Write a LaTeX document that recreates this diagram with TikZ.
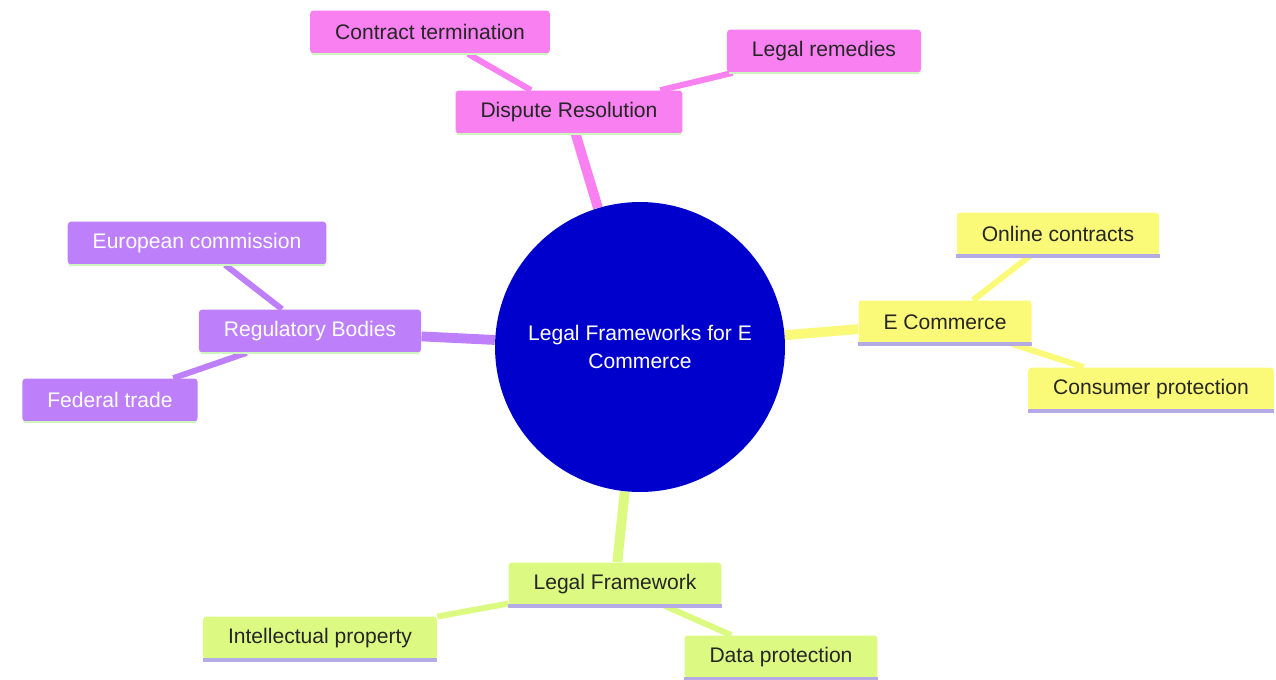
\documentclass[tikz,border=0pt]{standalone}
\usepackage{fontspec}
\setmainfont{Liberation Sans}
\usepackage{tikz}
\usetikzlibrary{backgrounds}
\usetikzlibrary{calc, positioning}

\definecolor{pinkbox}{RGB}{248,128,240}
\definecolor{violetbox}{RGB}{190,128,250}
\definecolor{yellowbox}{RGB}{250,250,120}
\definecolor{limebox}{RGB}{220,250,130}
\definecolor{hubblue}{RGB}{0,0,205}
\definecolor{lavenderline}{RGB}{180,170,230}
\definecolor{mintline}{RGB}{205,245,190}

\begin{document}
\begin{tikzpicture}[x=0.02cm, y=-0.02cm,
            boxnode/.style={rectangle, rounded corners=2pt, inner xsep=0.5cm, minimum height=0.86cm, font=\fontsize{12}{14}\selectfont},
            pinknode/.style={boxnode, fill=pinkbox, text=black!85},
            violetnode/.style={boxnode, fill=violetbox, text=white},
            yellownode/.style={boxnode, fill=yellowbox, text=black!85},
            limenode/.style={boxnode, fill=limebox, text=black!85},
            hubnode/.style={circle, fill=hubblue, text=white, minimum size=5.8cm, align=center, font=\fontsize{12}{16}\selectfont},
            mainline/.style={line width=5.6pt},
            subline/.style={line width=3.4pt},
            ]
            \useasboundingbox (0,0) rectangle (1276,680);

            %Nodes
            \node[hubnode]    (hub)        at (640,347) {Legal Frameworks for E\\ Commerce};
            \node[pinknode]   (dispute)    at (569,112) {Dispute Resolution};
            \node[pinknode]   (contract)   at (430,32)  {Contract termination};
            \node[pinknode]   (remedies)   at (824,51)  {Legal remedies};
            \node[yellownode] (ecommerce)  at (945,322) {E Commerce};
            \node[yellownode] (online)     at (1058,234) {Online contracts};
            \node[yellownode] (consumer)   at (1151,389) {Consumer protection};
            \node[violetnode] (regulatory) at (310,331) {Regulatory Bodies};
            \node[violetnode] (european)   at (197,243) {European commission};
            \node[violetnode] (federal)    at (110,400) {Federal trade};
            \node[limenode]   (framework)  at (615,584) {Legal Framework};
            \node[limenode]   (property)   at (320,638) {Intellectual property};
            \node[limenode]   (protection) at (781,657) {Data protection};

            %Bottom edges
            \foreach \n in {dispute, contract, remedies, regulatory, european, federal}
                \draw[mintline, line width=1.5pt] ($(\n.south west)+(2,0)$) -- ($(\n.south east)+(-2,0)$);
            \foreach \n in {ecommerce, online, consumer, framework, property, protection}
                \draw[lavenderline, line width=2pt] (\n.south west) -- (\n.south east);

            %Lines
            \begin{pgfonlayer}{background}
                \draw[mainline, pinkbox] (hub) -- (dispute);
                \draw[subline, pinkbox] (dispute) -- (contract);
                \draw[subline, pinkbox] (dispute) -- (remedies);
                \draw[mainline, yellowbox] (hub) -- (ecommerce);
                \draw[subline, yellowbox] (ecommerce) -- (online);
                \draw[subline, yellowbox] (ecommerce) -- (consumer);
                \draw[mainline, violetbox] (hub) -- (regulatory);
                \draw[subline, violetbox] (regulatory) -- (european);
                \draw[subline, violetbox] (regulatory) -- (federal);
                \draw[mainline, limebox] (hub) -- (framework);
                \draw[subline, limebox] (framework) -- (property);
                \draw[subline, limebox] (framework) -- (protection);
            \end{pgfonlayer}
          \end{tikzpicture}
\end{document}
